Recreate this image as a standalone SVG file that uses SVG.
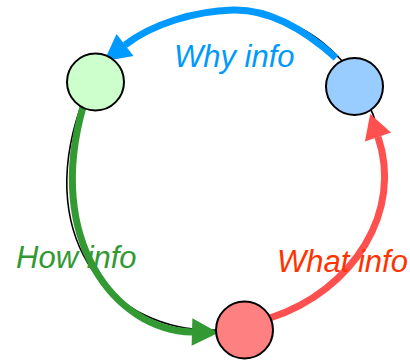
<svg xmlns="http://www.w3.org/2000/svg" width="410" height="361" viewBox="0 0 410 361">
<style>
.node{stroke:#000;stroke-width:2}
.thin{fill:none;stroke:#000;stroke-width:1.6}
.arc{fill:none;stroke-width:7;stroke-linecap:butt}
.lbl{font-family:"Liberation Sans",Arial,sans-serif;font-style:italic;font-size:31px}
</style>
<defs>
<marker id="hb" markerUnits="userSpaceOnUse" markerWidth="30" markerHeight="30" viewBox="-1 -13 26 26" refX="0" refY="0" orient="auto"><path d="M0,-12 L23,0 L0,12 Z" fill="#0099FF"/></marker>
<marker id="hg" markerUnits="userSpaceOnUse" markerWidth="30" markerHeight="30" viewBox="-1 -13 26 26" refX="0" refY="0" orient="auto"><path d="M0,-12 L23,0 L0,12 Z" fill="#339933"/></marker>
<marker id="hr" markerUnits="userSpaceOnUse" markerWidth="30" markerHeight="30" viewBox="-1 -13 26 26" refX="0" refY="0" orient="auto"><path d="M0,-12 L21,0 L0,12 Z" fill="#FF5050"/></marker>
</defs>
<g id="connectors">
<path class="thin" d="M80,109 C34,243 115,333 216,330"/>
<path class="thin" d="M344,63 C325,42 308,30 290,24 C270,15 250,10 233,10 C195,11 152,24 125,45 L112,57"/>
<path class="thin" d="M272,318 C355,290 403,210 378,137 C376,128 376,119 371,110"/>
<path class="arc" stroke="#0099FF" d="M336,58 C305,30 270,9 233,10 C195,11 152,24 125,45" marker-end="url(#hb)"/>
<path class="arc" stroke="#339933" d="M83,107 C45,240 115,330 192,332" marker-end="url(#hg)"/>
<path class="arc" stroke="#FF5050" d="M270,318 C355,290 403,210 378,137" marker-end="url(#hr)"/>
</g>
<g id="node-how"><circle class="node" cx="95.5" cy="82" r="28.5" fill="#CCFFCC"/></g>
<g id="node-why"><circle class="node" cx="354.5" cy="86.5" r="28.5" fill="#99CCFF"/></g>
<g id="node-what"><circle class="node" cx="244.5" cy="330" r="28.5" fill="#FF8080"/></g>
<g id="labels">
<text class="lbl" x="174" y="67" fill="#0099FF">Why info</text>
<text class="lbl" x="16" y="268" fill="#339933">How info</text>
<text class="lbl" x="277" y="272" fill="#FF3300">What info</text>
</g>
</svg>
